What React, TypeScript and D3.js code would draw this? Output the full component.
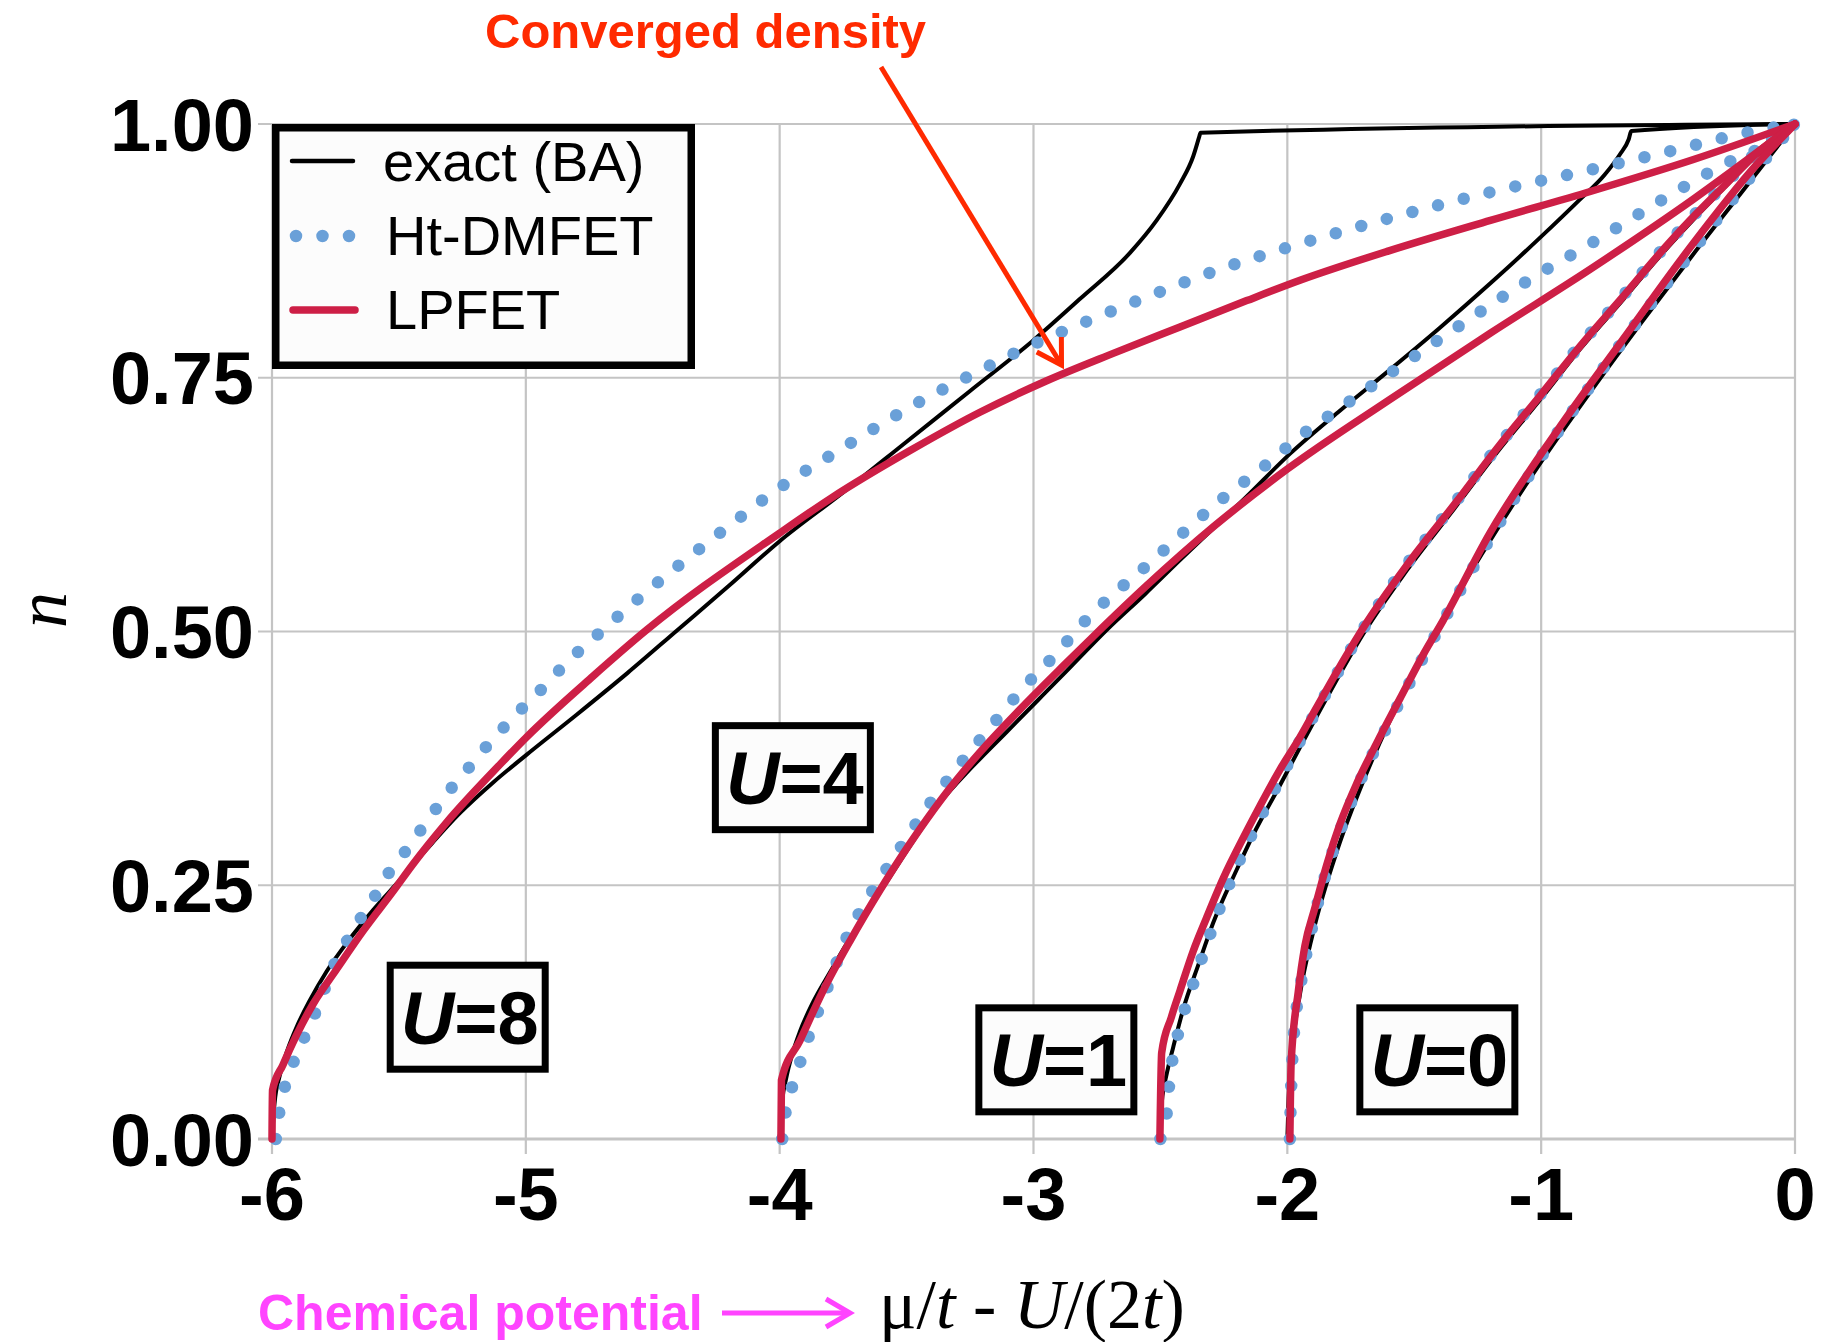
import React from 'react';
import * as d3 from 'd3';

type P = [number, number];

const xTicks = [-6, -5, -4, -3, -2, -1, 0];
const xTickLabels = ['-6', '-5', '-4', '-3', '-2', '-1', '0'];
const yTicks = [0, 0.25, 0.5, 0.75, 1];
const yTickLabels = ['0.00', '0.25', '0.50', '0.75', '1.00'];
const seriesNames = ['exact (BA)', 'Ht-DMFET', 'LPFET'];
const uValues = ['8', '4', '1', '0'];

// U = 0
const exactU0: P[] = [[-2, 0], [-1.995, 0.04], [-1.98, 0.09], [-1.95, 0.143], [-1.9, 0.202], [-1.8, 0.287], [-1.7, 0.353], [-1.6, 0.41], [-1.5, 0.46], [-1.4, 0.506], [-1.2, 0.59], [-1.0, 0.667], [-0.8, 0.738], [-0.6, 0.806], [-0.4, 0.872], [-0.2, 0.936], [0, 1]];
const htU0: P[] = [[-1.99, 0], [-1.985, 0.05], [-1.975, 0.1], [-1.95, 0.148], [-1.91, 0.2], [-1.85, 0.26], [-1.79, 0.305], [-1.7, 0.36], [-1.6, 0.41], [-1.5, 0.458], [-1.4, 0.504], [-1.2, 0.592], [-1.0, 0.672], [-0.8, 0.744], [-0.6, 0.812], [-0.4, 0.876], [-0.2, 0.94], [0, 1]];
const lpfetU0: P[] = [[-1.99, 0], [-1.985, 0.075], [-1.957, 0.145], [-1.931, 0.19], [-1.891, 0.228], [-1.845, 0.27], [-1.793, 0.31], [-1.727, 0.35], [-1.648, 0.39], [-1.556, 0.434], [-1.465, 0.477], [-1.386, 0.511], [-1.202, 0.597], [-0.939, 0.697], [-0.677, 0.788], [-0.414, 0.878], [-0.151, 0.96], [0, 1]];

// U = 1
const exactU1: P[] = [[-2.5, 0], [-2.495, 0.035], [-2.485, 0.052], [-2.47, 0.07], [-2.45, 0.09], [-2.41, 0.128], [-2.35, 0.172], [-2.292, 0.213], [-2.2, 0.265], [-2.134, 0.3], [-2.03, 0.348], [-1.95, 0.386], [-1.885, 0.416], [-1.766, 0.47], [-1.7, 0.498], [-1.53, 0.56], [-1.333, 0.624], [-1.175, 0.676], [-1.005, 0.728], [-0.847, 0.778], [-0.677, 0.827], [-0.545, 0.866], [-0.414, 0.902], [-0.283, 0.936], [-0.151, 0.969], [0, 1]];
const htU1: P[] = [[-2.5, 0], [-2.473, 0.03], [-2.465, 0.055], [-2.452, 0.079], [-2.43, 0.104], [-2.404, 0.128], [-2.373, 0.151], [-2.33, 0.183], [-2.27, 0.225], [-2.2, 0.268], [-2.12, 0.31], [-2.03, 0.354], [-1.95, 0.392], [-1.85, 0.438], [-1.7, 0.503], [-1.53, 0.566], [-1.333, 0.629], [-1.175, 0.681], [-1.005, 0.733], [-0.847, 0.782], [-0.677, 0.831], [-0.545, 0.87], [-0.414, 0.906], [-0.283, 0.939], [-0.151, 0.972], [0, 1]];
const lpfetU1: P[] = [[-2.502, 0], [-2.495, 0.085], [-2.457, 0.12], [-2.423, 0.146], [-2.371, 0.185], [-2.318, 0.218], [-2.252, 0.257], [-2.173, 0.297], [-2.108, 0.328], [-2.029, 0.364], [-1.95, 0.396], [-1.885, 0.425], [-1.766, 0.477], [-1.7, 0.504], [-1.53, 0.565], [-1.333, 0.628], [-1.175, 0.68], [-1.005, 0.732], [-0.847, 0.781], [-0.677, 0.83], [-0.545, 0.869], [-0.414, 0.905], [-0.283, 0.938], [-0.151, 0.971], [0, 1]];

// U = 4
const exactU4: P[] = [[-4, 0], [-3.99, 0.037], [-3.975, 0.059], [-3.95, 0.084], [-3.92, 0.106], [-3.868, 0.135], [-3.8, 0.165], [-3.737, 0.192], [-3.65, 0.226], [-3.566, 0.258], [-3.47, 0.295], [-3.369, 0.331], [-3.24, 0.367], [-3.106, 0.401], [-2.98, 0.433], [-2.87, 0.461], [-2.712, 0.5015], [-2.56, 0.537], [-2.42, 0.571], [-2.16, 0.633], [-1.99, 0.675], [-1.8, 0.716], [-1.6, 0.757], [-1.4, 0.799], [-1.2, 0.843], [-1.0, 0.889], [-0.85, 0.925], [-0.75, 0.95], [-0.69, 0.97], [-0.655, 0.985], [-0.645, 0.993], [0, 1]];
const htU4: P[] = [[-3.99, 0], [-3.975, 0.029], [-3.949, 0.053], [-3.916, 0.078], [-3.884, 0.102], [-3.811, 0.15], [-3.739, 0.197], [-3.645, 0.24], [-3.537, 0.282], [-3.424, 0.325], [-3.303, 0.365], [-3.172, 0.405], [-3.038, 0.445], [-2.896, 0.482], [-2.824, 0.503], [-2.522, 0.572], [-2.289, 0.624], [-2.046, 0.672], [-1.967, 0.689], [-1.798, 0.719], [-1.546, 0.763], [-1.294, 0.806], [-1.037, 0.848], [-0.779, 0.886], [-0.519, 0.926], [-0.265, 0.962], [-0.088, 0.983], [0, 1]];
const lpfetU4: P[] = [[-3.995, 0], [-3.993, 0.058], [-3.92, 0.097], [-3.829, 0.146], [-3.723, 0.195], [-3.605, 0.245], [-3.487, 0.291], [-3.356, 0.337], [-3.211, 0.381], [-3.054, 0.423], [-2.883, 0.466], [-2.765, 0.495], [-2.555, 0.545], [-2.292, 0.603], [-2.0, 0.66], [-1.6, 0.728], [-1.2, 0.794], [-0.8, 0.858], [-0.4, 0.926], [0, 1]];

// U = 8
const exactU8: P[] = [[-6, 0], [-5.99, 0.035], [-5.97, 0.062], [-5.94, 0.087], [-5.9, 0.112], [-5.85, 0.137], [-5.785, 0.165], [-5.7, 0.195], [-5.6, 0.226], [-5.5, 0.254], [-5.392, 0.285], [-5.26, 0.321], [-5.13, 0.351], [-5.0, 0.378], [-4.8, 0.418], [-4.6, 0.459], [-4.4, 0.502], [-4.2, 0.545], [-4.0, 0.589], [-3.75, 0.637], [-3.5, 0.687], [-3.25, 0.737], [-3.0, 0.787], [-2.82, 0.827], [-2.62, 0.873], [-2.515, 0.905], [-2.423, 0.941], [-2.371, 0.968], [-2.347, 0.9875], [-2.342, 0.9915], [0, 1]];
const htU8: P[] = [[-5.985, 0], [-5.967, 0.033], [-5.941, 0.058], [-5.905, 0.082], [-5.862, 0.106], [-5.82, 0.13], [-5.785, 0.153], [-5.747, 0.176], [-5.7, 0.197], [-5.647, 0.219], [-5.595, 0.239], [-5.543, 0.261], [-5.48, 0.2815], [-5.421, 0.302], [-5.362, 0.3225], [-5.302, 0.343], [-5.234, 0.363], [-5.168, 0.383], [-5.1, 0.402], [-5.028, 0.421], [-4.954, 0.439], [-4.883, 0.458], [-4.811, 0.476], [-4.735, 0.493], [-4.577, 0.528], [-4.42, 0.5606], [-4.338, 0.577], [-4.174, 0.609], [-4.015, 0.639], [-3.747, 0.6815], [-3.483, 0.7215], [-3.207, 0.7576], [-3.021, 0.7806], [-2.833, 0.801], [-2.544, 0.8305], [-2.253, 0.858], [-1.963, 0.881], [-1.556, 0.91], [-1.153, 0.9356], [-0.85, 0.9524], [-0.545, 0.97], [-0.14, 0.994], [0, 1]];
const lpfetU8: P[] = [[-6, 0], [-5.998, 0.048], [-5.957, 0.073], [-5.904, 0.102], [-5.838, 0.133], [-5.746, 0.167], [-5.641, 0.205], [-5.523, 0.244], [-5.444, 0.271], [-5.312, 0.312], [-5.102, 0.369], [-4.997, 0.396], [-4.735, 0.456], [-4.524, 0.5015], [-4.0, 0.597], [-3.8, 0.631], [-3.474, 0.68], [-3.211, 0.716], [-2.948, 0.747], [-2.686, 0.774], [-2.423, 0.8], [-2.16, 0.826], [-1.95, 0.846], [-1.6, 0.875], [-1.2, 0.905], [-0.8, 0.934], [-0.4, 0.965], [0, 1]];

const exactSeries = [exactU8, exactU4, exactU1, exactU0];
const htSeries = [htU8, htU4, htU1, htU0];
const lpfetSeries = [lpfetU8, lpfetU4, lpfetU1, lpfetU0];

// label anchors (data coords of box centres)
const uLabelX = [-5.229, -3.948, -2.91, -1.409];
const uLabelN = [0.12, 0.356, 0.078, 0.078];

const SANS = "'Liberation Sans', Arial, Helvetica, sans-serif";
const SERIF = "'Liberation Serif', 'Times New Roman', Times, serif";
const BLACK = '#000000';
const BLUE = '#6aa0d8';
const RED = '#cd1f46';
const GRID = '#c4c4c4';

export default function App() {
  const W = 1825;
  const H = 1342;
  const xs = d3.scaleLinear().domain([-6, 0]).range([272, 1795]);
  const ys = d3.scaleLinear().domain([0, 1]).range([1139, 124]);

  const smooth = d3.line<P>().x(d => xs(d[0])).y(d => ys(d[1])).curve(d3.curveMonotoneX);

  const boxW = 162;
  const boxH = 111;
  const bw = 7;

  // arrow geometry
  const tip: P = [1061.5, 365];
  const start: P = [881, 67];
  const ang = Math.atan2(start[1] - tip[1], start[0] - tip[0]);
  const armLen = 28;
  const a1: P = [tip[0] + armLen * Math.cos(ang + 0.54), tip[1] + armLen * Math.sin(ang + 0.54)];
  const a2: P = [tip[0] + armLen * Math.cos(ang - 0.54), tip[1] + armLen * Math.sin(ang - 0.54)];

  return (
    <svg
      width={W}
      height={H}
      viewBox={`0 0 ${W} ${H}`}
      style={{ position: 'absolute', left: 0, top: 0, display: 'block' }}
    >
      <rect x={0} y={0} width={W} height={H} fill="#ffffff" />

      {/* grid */}
      {xTicks.map(t => (
        <line key={'gx' + t} x1={xs(t)} x2={xs(t)} y1={ys(1)} y2={ys(0) + 15} stroke={GRID} strokeWidth={2.2} />
      ))}
      {yTicks.map(t => (
        <line key={'gy' + t} x1={xs(-6) - 14} x2={xs(0)} y1={ys(t)} y2={ys(t)} stroke={GRID} strokeWidth={t === 0 ? 2.8 : 2.2} />
      ))}

      {/* tick labels */}
      {yTicks.map((t, i) => (
        <text key={'yl' + t} x={254} y={ys(t) + 26.5} textAnchor="end" fontFamily={SANS} fontWeight="bold" fontSize={74} fill="#000">
          {yTickLabels[i]}
        </text>
      ))}
      {xTicks.map((t, i) => (
        <text key={'xl' + t} x={xs(t)} y={1220} textAnchor="middle" fontFamily={SANS} fontWeight="bold" fontSize={74} fill="#000">
          {xTickLabels[i]}
        </text>
      ))}

      {/* curves */}
      {exactSeries.map((s, i) => (
        <path key={'ex' + i} d={smooth(s) || ''} fill="none" stroke={BLACK} strokeWidth={4} strokeLinejoin="round" />
      ))}
      {htSeries.map((s, i) => (
        <path key={'ht' + i} d={smooth(s) || ''} fill="none" stroke={BLUE} strokeWidth={12.5} strokeLinecap="round" strokeDasharray="0 26.5" />
      ))}
      {lpfetSeries.map((s, i) => (
        <path key={'lp' + i} d={smooth(s) || ''} fill="none" stroke={RED} strokeWidth={7.5} strokeLinejoin="round" strokeLinecap="round" />
      ))}

      {/* U labels */}
      {uValues.map((u, i) => {
        const cx = xs(uLabelX[i]);
        const cy = ys(uLabelN[i]);
        return (
          <g key={'u' + u}>
            <rect x={cx - boxW / 2 + bw / 2} y={cy - boxH / 2 + bw / 2} width={boxW - bw} height={boxH - bw} fill="#fcfcfc" stroke="#000" strokeWidth={bw} />
            <text x={cx + 2} y={cy + 26.5} textAnchor="middle" fontFamily={SANS} fontWeight="bold" fontSize={74} fill="#000">
              <tspan fontStyle="italic">U</tspan>
              <tspan>={u}</tspan>
            </text>
          </g>
        );
      })}

      {/* legend */}
      <g>
        <rect x={275.75} y={127.75} width={415.5} height={237.5} fill="#fcfcfc" stroke="#000" strokeWidth={7.5} />
        <line x1={292} x2={353} y1={161} y2={161} stroke={BLACK} strokeWidth={4.5} strokeLinecap="round" />
        <line x1={296} x2={350} y1={236} y2={236} stroke={BLUE} strokeWidth={12.5} strokeLinecap="round" strokeDasharray="0 26.5" />
        <line x1={293} x2={355} y1={310} y2={310} stroke={RED} strokeWidth={7.5} strokeLinecap="round" />
        {seriesNames.map((n, i) => (
          <text key={n} x={i === 0 ? 383 : 386} y={181 + i * 74} fontFamily={SANS} fontSize={56} fill="#000">
            {n}
          </text>
        ))}
      </g>

      {/* y axis title */}
      <text transform="translate(66,610) rotate(-90)" textAnchor="middle" fontFamily={SERIF} fontStyle="italic" fontSize={72} fill="#000">
        n
      </text>

      {/* x axis title */}
      <text x={879} y={1328} fontFamily={SERIF} fontSize={70} fill="#000">
        <tspan>μ/</tspan>
        <tspan fontStyle="italic">t</tspan>
        <tspan> - </tspan>
        <tspan fontStyle="italic">U</tspan>
        <tspan>/(2</tspan>
        <tspan fontStyle="italic">t</tspan>
        <tspan>)</tspan>
      </text>

      {/* Chemical potential annotation */}
      <text x={258} y={1330} fontFamily={SANS} fontWeight="bold" fontSize={50} fill="#ff44ff">
        Chemical potential
      </text>
      <line x1={722} x2={848} y1={1313} y2={1313} stroke="#ff44ff" strokeWidth={5} />
      <polyline points="826,1299 850,1313 826,1327" fill="none" stroke="#ff44ff" strokeWidth={5} strokeLinejoin="miter" />

      {/* Converged density annotation */}
      <text x={485} y={48} fontFamily={SANS} fontWeight="bold" fontSize={49} fill="#ff2a00">
        Converged density
      </text>
      <line x1={start[0]} y1={start[1]} x2={tip[0]} y2={tip[1]} stroke="#ff2a00" strokeWidth={5} />
      <polyline points={`${a1[0]},${a1[1]} ${tip[0]},${tip[1]} ${a2[0]},${a2[1]}`} fill="none" stroke="#ff2a00" strokeWidth={5} strokeLinejoin="miter" />
    </svg>
  );
}
